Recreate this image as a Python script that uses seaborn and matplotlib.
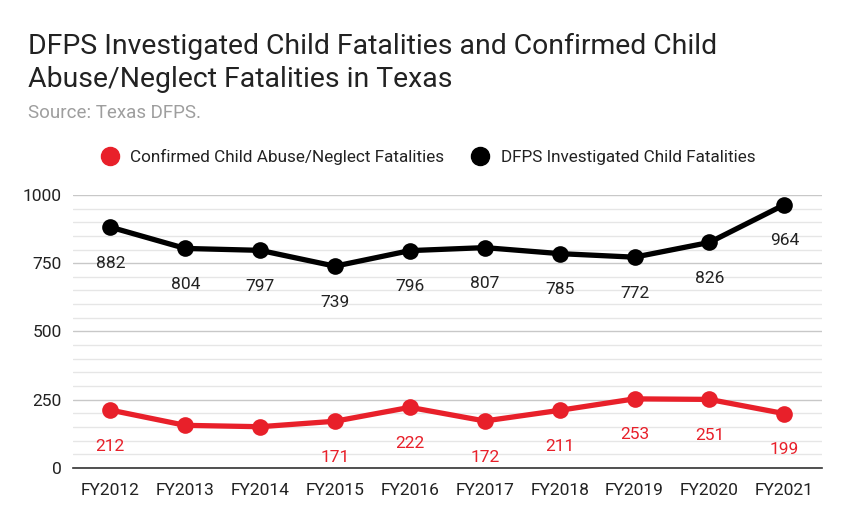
import pandas as pd
import matplotlib.pyplot as plt
import seaborn as sns
from matplotlib.ticker import MultipleLocator

years = ['FY2012', 'FY2013', 'FY2014', 'FY2015', 'FY2016',
         'FY2017', 'FY2018', 'FY2019', 'FY2020', 'FY2021']
confirmed = [212, 156, 151, 171, 222, 172, 211, 253, 251, 199]
investigated = [882, 804, 797, 739, 796, 807, 785, 772, 826, 964]
confirmed_labels = ['212', '', '', '171', '222', '172', '211', '253', '251', '199']
investigated_labels = ['882', '804', '797', '739', '796', '807', '785', '772', '826', '964']

red = '#e8202a'
black = '#000000'
series_a = 'Confirmed Child Abuse/Neglect Fatalities'
series_b = 'DFPS Investigated Child Fatalities'

df = pd.DataFrame({
    'year': years * 2,
    'x': list(range(len(years))) * 2,
    'value': confirmed + investigated,
    'series': [series_a] * len(years) + [series_b] * len(years),
})

sns.set_style('white')
plt.rcParams['font.family'] = ['Roboto', 'DejaVu Sans']

fig = plt.figure(figsize=(8.48, 5.24), dpi=100)
ax = fig.add_axes([0.086, 0.107, 0.883, 0.521])

sns.lineplot(data=df, x='x', y='value', hue='series', palette=[red, black],
             marker='o', markersize=12, markeredgewidth=0, linewidth=3.8,
             legend=False, ax=ax, zorder=3)

for i, (v, lab) in enumerate(zip(confirmed, confirmed_labels)):
    if lab:
        ax.annotate(lab, (i, v), xytext=(0, -26), textcoords='offset points',
                    ha='center', va='center', fontsize=12.5, color=red)
for i, (v, lab) in enumerate(zip(investigated, investigated_labels)):
    ax.annotate(lab, (i, v), xytext=(0, -26), textcoords='offset points',
                ha='center', va='center', fontsize=12.5, color='#222222')

ax.set_xlim(-0.5, 9.5)
ax.set_ylim(0, 1000)
ax.set_xticks(range(len(years)))
ax.set_xticklabels(years)
ax.yaxis.set_major_locator(MultipleLocator(250))
ax.yaxis.set_minor_locator(MultipleLocator(50))
ax.grid(axis='y', which='major', color='#c8c8c8', linewidth=1)
ax.grid(axis='y', which='minor', color='#e6e6e6', linewidth=1)
ax.set_axisbelow(True)
ax.tick_params(axis='both', length=0, labelsize=12.5, colors='#222222')
ax.tick_params(axis='x', pad=11)
ax.tick_params(axis='y', pad=8)
ax.set_xlabel('')
ax.set_ylabel('')
for side in ['top', 'right', 'left']:
    ax.spines[side].set_visible(False)
ax.spines['bottom'].set_color('#333333')
ax.spines['bottom'].set_linewidth(1.2)

fig.text(0.033, 0.834, 'DFPS Investigated Child Fatalities and Confirmed Child\nAbuse/Neglect Fatalities in Texas',
         fontsize=20.4, color='#222222', ha='left', va='baseline', linespacing=1.3)
fig.text(0.033, 0.775, 'Source: Texas DFPS.', fontsize=13.5, color='#9e9e9e', ha='left', va='baseline')

handles = [plt.Line2D([], [], marker='o', linestyle='', color=red, markersize=13),
           plt.Line2D([], [], marker='o', linestyle='', color=black, markersize=13)]
fig.legend(handles, [series_a, series_b], loc='center', bbox_to_anchor=(0.5, 0.70),
           ncol=2, frameon=False, fontsize=12.3, handletextpad=0.2, columnspacing=1.1,
           labelcolor='#222222')

plt.savefig('out.png', dpi=100)
